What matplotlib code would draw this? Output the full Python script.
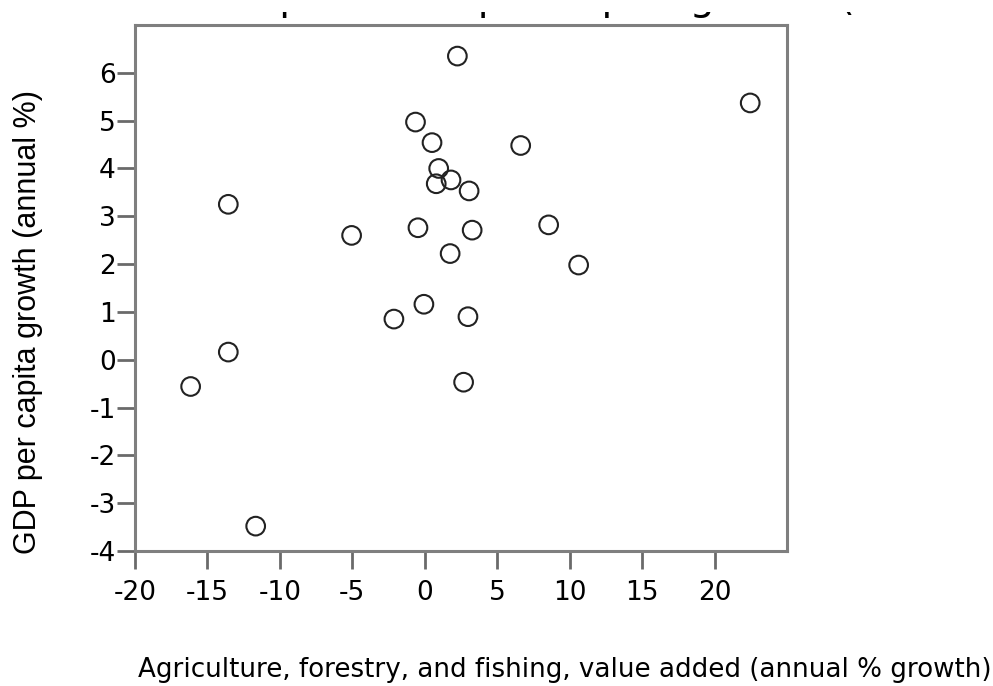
import matplotlib
matplotlib.use('Agg')
import numpy as np
import matplotlib.pyplot as plt
from matplotlib.patches import Rectangle

# Agriculture value added growth (x) vs GDP per capita growth (y), annual %
agri = [2.25, 22.46, -0.64, 0.50, 6.62, 0.96, 1.81, 0.79, 3.06, -13.56, -5.05, -0.47,
        3.27, 8.55, 1.75, 10.62, -0.06, -2.13, 2.98, -13.56, -16.16, 2.68, -11.67]
gdp = [6.35, 5.37, 4.97, 4.54, 4.48, 4.00, 3.76, 3.68, 3.53, 3.25, 2.60, 2.76,
       2.71, 2.82, 2.22, 1.98, 1.16, 0.85, 0.90, 0.16, -0.56, -0.47, -3.48]

xticks = np.arange(-20, 25, 5)
yticks = np.arange(-4, 7, 1)

xlabel = u'Agriculture, forestry, and fishing, value added (annual % growth)'
ylabel = u'GDP per capita growth (annual %)'
title = u'Scatterplot: GDP per capita growth (annual %) vs. Agriculture, forestry, and fishing'

plt.rcParams['axes.unicode_minus'] = False
plt.rcParams['font.family'] = ['DejaVu Sans']

fig = plt.figure(figsize=(9.93, 6.86), dpi=100)
ax = fig.add_axes([135 / 993., 1 - 551 / 686., (787 - 135) / 993., (551 - 25) / 686.])

ax.scatter(agri, gdp, s=180, facecolors='none', edgecolors='#222222', linewidths=1.5, zorder=3)

ax.set_xlim(-20, 25)
ax.set_ylim(-4, 7)
ax.set_xticks(xticks)
ax.set_yticks(yticks)
ax.tick_params(axis='both', length=13, width=2, color='#6a6a6a', labelsize=19, labelcolor='black')
ax.tick_params(axis='x', pad=8)
ax.tick_params(axis='y', pad=1)

for sp in ax.spines.values():
	sp.set_color('#7f7f7f')
	sp.set_linewidth(2.2)

fig.text(138 / 993., 9 / 686., xlabel, fontsize=18.8, ha='left', va='baseline')
fig.text(28 / 993., 0.5313, ylabel, fontsize=22, family='Liberation Sans',
	rotation=90, ha='center', va='center')

# title sits above the picture, only the tails of its letters show
fig.text(137 / 993., 1 - 10 / 686., title, fontsize=28.4, ha='left', va='baseline', zorder=1)
fig.patches.append(Rectangle((0, 1 - 11.5 / 686.), 1, 11.5 / 686., transform=fig.transFigure,
	figure=fig, facecolor='white', edgecolor='none', zorder=20))

fig.savefig('out.png', dpi=100)
